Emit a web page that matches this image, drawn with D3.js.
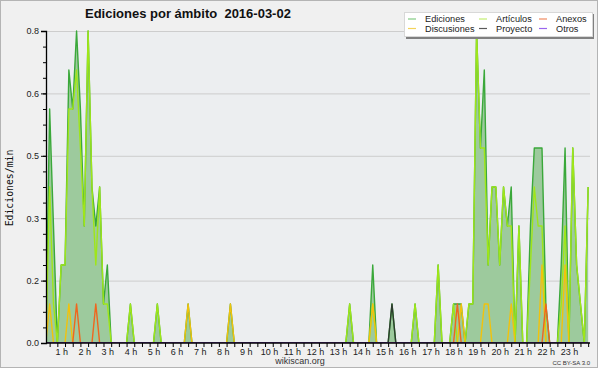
<!DOCTYPE html>
<html>
<head>
<meta charset="utf-8">
<script src="https://cdn.jsdelivr.net/npm/d3@7"></script>
<style>
  body { margin: 0; background: #ffffff; }
  svg { display: block; }
  text { font-family: "Liberation Sans", Arial, sans-serif; }
</style>
</head>
<body>
<div id="chart"></div>
<script>
"use strict";

// 10-minute slots, 144 per day
const title = "Ediciones por ámbito  2016-03-02";
const yLabel = "Ediciones/min";
const hourTicks = [1, 2, 3, 4, 5, 6, 7, 8, 9, 10, 11, 12, 13, 14, 15, 16, 17, 18, 19, 20, 21, 22, 23];
const yTicks = [0, 0.16, 0.32, 0.48, 0.64, 0.8];
const yTickLabels = ["0.0", "0.2", "0.3", "0.5", "0.6", "0.8"];

const ediciones = [
  0, 0, 0, 0.6, 0.3, 0, 0.2, 0.2, 0.7, 0.6, 0.8, 0.6,
  0.3, 0.8, 0.4, 0.3, 0.4, 0.1, 0.2, 0, 0, 0, 0, 0,
  0.1, 0, 0, 0, 0, 0, 0, 0.1, 0, 0, 0, 0,
  0, 0, 0, 0.1, 0, 0, 0, 0, 0, 0, 0, 0,
  0, 0, 0.1, 0, 0, 0, 0, 0, 0, 0, 0, 0,
  0, 0, 0, 0, 0, 0, 0, 0, 0, 0, 0, 0,
  0, 0, 0, 0, 0, 0, 0, 0, 0, 0.1, 0, 0,
  0, 0, 0, 0.2, 0, 0, 0, 0, 0.1, 0, 0, 0,
  0, 0, 0.1, 0, 0, 0, 0, 0, 0.2, 0, 0, 0,
  0.1, 0.1, 0.1, 0, 0.1, 0.1, 0.8, 0.5, 0.7, 0.2, 0.4, 0.4,
  0.2, 0.4, 0.3, 0.4, 0, 0.3, 0, 0, 0.3, 0.5, 0.5, 0.5,
  0.1, 0, 0, 0, 0.2, 0.5, 0, 0.5, 0.2, 0.1, 0, 0.4
];
const articulos = [
  0, 0, 0, 0.4, 0.1, 0, 0.2, 0.2, 0.6, 0.6, 0.7, 0.5,
  0.3, 0.8, 0.4, 0.2, 0.4, 0.1, 0.1, 0, 0, 0, 0, 0,
  0.1, 0, 0, 0, 0, 0, 0, 0.1, 0, 0, 0, 0,
  0, 0, 0, 0, 0, 0, 0, 0, 0, 0, 0, 0,
  0, 0, 0, 0, 0, 0, 0, 0, 0, 0, 0, 0,
  0, 0, 0, 0, 0, 0, 0, 0, 0, 0, 0, 0,
  0, 0, 0, 0, 0, 0, 0, 0, 0, 0.1, 0, 0,
  0, 0, 0, 0.1, 0, 0, 0, 0, 0, 0, 0, 0,
  0, 0, 0.1, 0, 0, 0, 0, 0, 0.2, 0, 0, 0,
  0.1, 0, 0, 0, 0.1, 0.1, 0.8, 0.5, 0.5, 0.2, 0.4, 0.4,
  0.2, 0.4, 0.3, 0.3, 0, 0.3, 0, 0, 0.2, 0.4, 0.3, 0.3,
  0, 0, 0, 0, 0.1, 0.3, 0, 0.5, 0.2, 0.1, 0, 0.4
];
const discusiones = [
  0, 0, 0, 0.1, 0, 0, 0, 0, 0.1, 0, 0, 0,
  0, 0, 0, 0, 0, 0, 0, 0, 0, 0, 0, 0,
  0, 0, 0, 0, 0, 0, 0, 0, 0, 0, 0, 0,
  0, 0, 0, 0.1, 0, 0, 0, 0, 0, 0, 0, 0,
  0, 0, 0.1, 0, 0, 0, 0, 0, 0, 0, 0, 0,
  0, 0, 0, 0, 0, 0, 0, 0, 0, 0, 0, 0,
  0, 0, 0, 0, 0, 0, 0, 0, 0, 0, 0, 0,
  0, 0, 0, 0.1, 0, 0, 0, 0, 0, 0, 0, 0,
  0, 0, 0, 0, 0, 0, 0, 0, 0, 0, 0, 0,
  0, 0, 0.1, 0, 0, 0, 0, 0, 0.1, 0.1, 0, 0,
  0, 0, 0, 0.1, 0, 0, 0, 0, 0, 0, 0, 0.2,
  0, 0, 0, 0, 0, 0.2, 0, 0, 0, 0, 0, 0
];
const anexos = [
  0, 0, 0, 0, 0, 0, 0, 0, 0, 0, 0.1, 0,
  0, 0, 0, 0.1, 0, 0, 0, 0, 0, 0, 0, 0,
  0, 0, 0, 0, 0, 0, 0, 0, 0, 0, 0, 0,
  0, 0, 0, 0, 0, 0, 0, 0, 0, 0, 0, 0,
  0, 0, 0, 0, 0, 0, 0, 0, 0, 0, 0, 0,
  0, 0, 0, 0, 0, 0, 0, 0, 0, 0, 0, 0,
  0, 0, 0, 0, 0, 0, 0, 0, 0, 0, 0, 0,
  0, 0, 0, 0, 0, 0, 0, 0, 0, 0, 0, 0,
  0, 0, 0, 0, 0, 0, 0, 0, 0, 0, 0, 0,
  0, 0.1, 0, 0, 0, 0, 0, 0, 0, 0, 0, 0,
  0, 0, 0, 0, 0, 0, 0, 0, 0, 0, 0, 0,
  0.1, 0, 0, 0, 0, 0, 0, 0, 0, 0, 0, 0
];
const proyecto = [
  0, 0, 0, 0, 0, 0, 0, 0, 0, 0, 0, 0,
  0, 0, 0, 0, 0, 0, 0, 0, 0, 0, 0, 0,
  0, 0, 0, 0, 0, 0, 0, 0, 0, 0, 0, 0,
  0, 0, 0, 0, 0, 0, 0, 0, 0, 0, 0, 0,
  0, 0, 0, 0, 0, 0, 0, 0, 0, 0, 0, 0,
  0, 0, 0, 0, 0, 0, 0, 0, 0, 0, 0, 0,
  0, 0, 0, 0, 0, 0, 0, 0, 0, 0, 0, 0,
  0, 0, 0, 0, 0, 0, 0, 0, 0.1, 0, 0, 0,
  0, 0, 0, 0, 0, 0, 0, 0, 0, 0, 0, 0,
  0, 0, 0, 0, 0, 0, 0, 0, 0, 0, 0, 0,
  0, 0, 0, 0, 0, 0, 0, 0, 0, 0, 0, 0,
  0, 0, 0, 0, 0, 0, 0, 0, 0, 0, 0, 0
];
const otros = ediciones.map(() => 0);

const series = [
  { name: "Ediciones",   values: ediciones,   color: "#3aa83a", swatch: "#84cc84" },
  { name: "Discusiones", values: discusiones, color: "#f2c20c", swatch: "#f3d35a" },
  { name: "Artículos",   values: articulos,   color: "#9fe619", swatch: "#c4ee72" },
  { name: "Proyecto",    values: proyecto,    color: "#2e3b2e", swatch: "#5a5a5a" },
  { name: "Anexos",      values: anexos,      color: "#f0661e", swatch: "#f08a62" },
  { name: "Otros",       values: otros,       color: "#8a3cf0", swatch: "#9a66ee" }
];
// line drawing order (Ediciones first, rest over it)
const drawOrder = ["Ediciones", "Artículos", "Discusiones", "Anexos", "Proyecto", "Otros"];

const W = 600, H = 370;
const plot = { left: 46, right: 590, top: 31, bottom: 343 };

const svg = d3.select("#chart").append("svg")
  .attr("width", W)
  .attr("height", H);

// frame
svg.append("rect")
  .attr("x", 0).attr("y", 0).attr("width", W).attr("height", H)
  .attr("fill", "#ffffff");
svg.append("rect")
  .attr("x", 0.5).attr("y", 0.5).attr("width", 597).attr("height", 367)
  .attr("fill", "#f0f0f0")
  .attr("stroke", "#b4b4b4");

svg.append("rect")
  .attr("x", plot.left).attr("y", plot.top)
  .attr("width", plot.right - plot.left).attr("height", plot.bottom - plot.top)
  .attr("fill", "#eceef0");

// slot index -> hour; slot 0 sits a little left of the y axis
let x = d3.scaleLinear().domain([0, 24]).range([38.1, 592]);
let y = d3.scaleLinear().domain([0, 0.8]).range([plot.bottom, plot.top]);

const slots = d3.range(ediciones.length);

// grid
svg.append("g")
  .selectAll("line")
  .data(yTicks.slice(1))
  .join("line")
  .attr("x1", plot.left).attr("x2", plot.right)
  .attr("y1", d => y(d) + 0.5).attr("y2", d => y(d) + 0.5)
  .attr("stroke", "#cdcdcd");

svg.append("clipPath").attr("id", "plotclip")
  .append("rect")
  .attr("x", plot.left).attr("y", plot.top - 2)
  .attr("width", plot.right - plot.left + 2).attr("height", plot.bottom - plot.top + 2);

const g = svg.append("g").attr("clip-path", "url(#plotclip)");

let area = d3.area()
  .x(i => x(i / 6))
  .y0(y(0))
  .y1(i => y(ediciones[i]));

g.append("path")
  .attr("d", area(slots))
  .attr("fill", "#9dca9d");

for (let name of drawOrder) {
  let s = series.find(d => d.name == name);
  let line = d3.line()
    .x(i => x(i / 6))
    .y(i => y(s.values[i]));
  g.append("path")
    .attr("d", line(slots))
    .attr("fill", "none")
    .attr("stroke", s.color)
    .attr("stroke-width", 1.4)
    .attr("stroke-linejoin", "round");
}

// y axis
let yAxis = svg.append("g")
  .attr("transform", `translate(${plot.left},0)`)
  .call(d3.axisLeft(y).tickValues(yTicks).tickSize(5).tickPadding(2)
    .tickFormat((d, i) => yTickLabels[i]));
svg.append("g")
  .attr("transform", `translate(${plot.left},0)`)
  .call(d3.axisLeft(y).tickValues(d3.range(0, 0.81, 0.04)).tickSize(3).tickFormat(""))
  .call(a => a.select(".domain").remove());

// x axis: minor ticks every 20 minutes, hour labels
let minorX = d3.range(3, 144, 2).map(i => i / 6);
let xAxis = svg.append("g")
  .attr("transform", `translate(0,${plot.bottom})`)
  .call(d3.axisBottom(x).tickValues(minorX).tickSize(4).tickFormat(""));
xAxis.select(".domain").remove();
xAxis.append("line")
  .attr("x1", plot.left).attr("x2", plot.right)
  .attr("stroke", "#000").attr("stroke-width", 1.3);

svg.append("g")
  .attr("transform", `translate(0,${plot.bottom})`)
  .call(d3.axisBottom(x).tickValues(hourTicks).tickSize(0).tickPadding(6)
    .tickFormat(d => d + " h"))
  .call(a => a.select(".domain").remove());

svg.selectAll(".tick text")
  .attr("fill", "#222")
  .style("font-family", "'Liberation Sans', Arial, sans-serif")
  .style("font-size", "9px");
svg.selectAll(".tick line").attr("stroke", "#000");
yAxis.select(".domain").attr("stroke", "#000").attr("stroke-width", 1.3);

// y label
svg.append("text")
  .attr("transform", "translate(13,188) rotate(-90)")
  .style("text-anchor", "middle")
  .style("font-family", "'DejaVu Sans Mono', monospace")
  .style("font-size", "9.8px")
  .attr("fill", "#111")
  .text(yLabel);

// title
svg.append("text")
  .attr("x", 85).attr("y", 18)
  .style("font-weight", "bold")
  .style("font-size", "13px")
  .style("white-space", "pre")
  .attr("fill", "#111")
  .text(title);

// footer
svg.append("text")
  .attr("x", 300).attr("y", 364)
  .style("text-anchor", "middle")
  .style("font-size", "9px")
  .attr("fill", "#333")
  .text("wikiscan.org");
svg.append("text")
  .attr("x", 590).attr("y", 365)
  .style("text-anchor", "end")
  .style("font-size", "6px")
  .attr("fill", "#333")
  .text("CC BY-SA 3.0");

// legend
let legend = svg.append("g");
legend.append("rect")
  .attr("x", 406).attr("y", 14).attr("width", 188).attr("height", 25)
  .attr("fill", "#808080");
legend.append("rect")
  .attr("x", 404.5).attr("y", 12.5).attr("width", 188).attr("height", 24)
  .attr("fill", "#ffffff").attr("stroke", "#d8d8d8");

const legendCols = [408, 479, 539];
const legendRows = [19, 28.5];
series.forEach((s, k) => {
  let cx = legendCols[Math.floor(k / 2)];
  let cy = legendRows[k % 2];
  legend.append("line")
    .attr("x1", cx).attr("x2", cx + 8)
    .attr("y1", cy).attr("y2", cy)
    .attr("stroke", s.swatch).attr("stroke-width", 1.2);
  legend.append("text")
    .attr("x", cx + 17).attr("y", cy + 3.2)
    .style("font-size", "9.2px")
    .attr("fill", "#222")
    .text(s.name);
});
</script>
</body>
</html>
